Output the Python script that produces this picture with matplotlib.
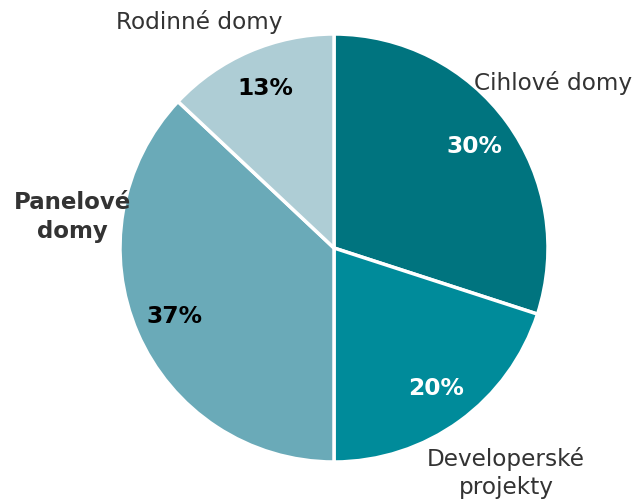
import numpy as np
import matplotlib.pyplot as plt

categories = ["Cihlové domy", "Developerské\nprojekty", "Panelové\ndomy", "Rodinné domy"]
shares = [30, 20, 37, 13]
colors = ["#00747f", "#008b9a", "#6aaab8", "#aecdd5"]
pct_colors = ["white", "white", "black", "black"]
label_bold = [False, False, True, False]
# label placement as (angle in degrees, distance from centre in radii)
label_pos = [(37, 1.28), (-52.6, 1.325), (173.2, 1.23), (120.7, 1.23)]

fig = plt.figure(figsize=(6.39, 5.01), dpi=100)
ax = fig.add_axes([120 / 639, 39 / 501, 428 / 639, 428 / 501])

wedges, texts, autotexts = ax.pie(
    shares, colors=colors, startangle=90, counterclock=False,
    autopct="%d%%", pctdistance=0.81,
    wedgeprops=dict(edgecolor="white", linewidth=2.5),
    textprops=dict(fontsize=16.8, fontweight="bold"),
)
for t, c in zip(autotexts, pct_colors):
    t.set_color(c)

for name, (ang, r), bold in zip(categories, label_pos, label_bold):
    a = np.deg2rad(ang)
    ax.text(r * np.cos(a), r * np.sin(a), name, ha="center", va="center",
            fontsize=16.5 if bold else 16.7, color="#333333", linespacing=1.3,
            fontweight="bold" if bold else "normal")

ax.set_xlim(-1, 1)
ax.set_ylim(-1, 1)
ax.axis("off")

fig.savefig("out.png", dpi=100)
